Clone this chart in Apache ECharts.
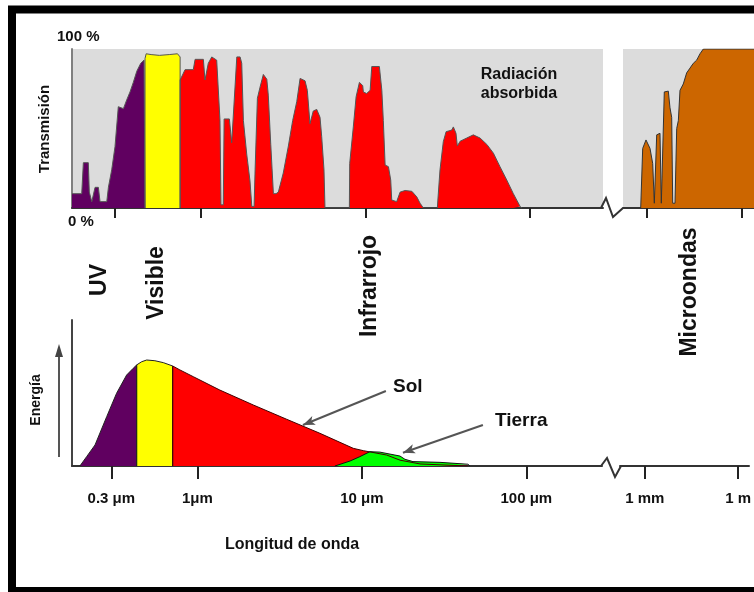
<!DOCTYPE html>
<html><head><meta charset="utf-8">
<script src="https://cdn.jsdelivr.net/npm/echarts@6/dist/echarts.min.js"></script>
<style>html,body{margin:0;padding:0;background:#fff;}#c{width:754px;height:592px;}</style>
</head><body><div id="c"></div>
<script>
// x values are log10(wavelength / µm)
const tickNear = [Math.log10(0.3), 0, 1, 2];
const tickNearText = ['0.3 μm', '1μm', '10 μm', '100 μm'];
const tickFar = [3, 6];
const tickFarText = ['1 mm', '1 m'];

// Atmospheric transmission (%)
const transUV = [[-0.78,9],[-0.721,9],[-0.711,28.5],[-0.681,28.5],[-0.675,10],[-0.66,4],[-0.65,4],[-0.64,13],[-0.62,13],[-0.61,4],[-0.569,4],[-0.559,13],[-0.539,24],[-0.519,38.6],[-0.499,63.7],[-0.468,62.5],[-0.448,68],[-0.428,73],[-0.408,79],[-0.387,86],[-0.363,91],[-0.343,93],[-0.337,94],[-0.337,0]];
const transVis = [[-0.337,0],[-0.337,94],[-0.33,97],[-0.30,96.5],[-0.25,96],[-0.19,96.5],[-0.14,97],[-0.124,95],[-0.124,0]];
const transIR = [[-0.124,0],[-0.124,80.5],[-0.094,87],[-0.044,87],[-0.033,93.5],[0.017,93.5],[0.027,80.5],[0.047,91],[0.068,95],[0.098,93],[0.118,55],[0.124,2],[0.138,2],[0.143,56],[0.175,56],[0.189,41],[0.22,95],[0.24,95],[0.25,91],[0.26,55],[0.28,34],[0.30,17],[0.311,1],[0.325,1],[0.331,24],[0.345,69],[0.361,76],[0.381,84],[0.402,81],[0.411,71],[0.426,40],[0.442,9],[0.458,9],[0.472,10],[0.502,22],[0.533,39],[0.559,55],[0.584,67],[0.604,81.5],[0.634,80],[0.648,74],[0.664,53],[0.684,61],[0.705,62],[0.725,57],[0.735,45],[0.749,24],[0.755,0],[0.903,0],[0.905,28],[0.927,51],[0.944,70],[0.964,79],[0.984,77],[0.988,73],[1.008,72],[1.029,74],[1.039,89],[1.085,89],[1.1,74],[1.109,55],[1.12,27],[1.14,26],[1.154,17.6],[1.16,5],[1.19,4],[1.211,10],[1.241,11],[1.282,10.5],[1.312,7],[1.332,3],[1.352,0],[1.437,0],[1.44,5],[1.453,24],[1.473,41.7],[1.49,48],[1.524,49],[1.534,51],[1.55,47],[1.558,39],[1.575,42],[1.615,44],[1.655,46],[1.696,44],[1.737,40],[1.777,34.5],[1.817,26],[1.858,17.6],[1.898,9],[1.939,1],[1.949,0]];
const transMW = [[2.801,0],[2.864,37.5],[2.968,42.8],[3.095,37.5],[3.18,28],[3.231,3],[3.284,3],[3.306,46],[3.41,47],[3.452,3],[3.515,3],[3.546,73],[3.673,73.5],[3.726,63],[3.78,57],[3.812,3],[3.884,3],[3.938,50],[3.99,55],[4.042,74],[4.146,78],[4.253,85],[4.358,88],[4.462,91],[4.569,93],[4.674,97],[4.778,100],[6.379,100]];

// Emitted energy (arbitrary units)
const solUV = [[-0.714,0],[-0.673,6.4],[-0.622,14.4],[-0.551,33.8],[-0.491,49.8],[-0.43,62.3],[-0.39,66.9],[-0.369,69.2],[-0.369,0]];
const solVis = [[-0.369,0],[-0.369,69.2],[-0.339,71.4],[-0.308,72.6],[-0.258,72.1],[-0.207,70.8],[-0.15,68.5],[-0.15,0]];
const solIR = [[-0.15,0],[-0.15,68.5],[-0.106,65.8],[-0.025,61.2],[0.137,52],[0.34,41.8],[0.543,32],[0.745,22.4],[0.948,12.1],[1.009,10.5],[1.151,7.5],[1.232,4],[1.354,1.4],[1.645,0]];
const tierra = [[0.836,0],[0.928,3.4],[0.988,6.4],[1.049,9.8],[1.11,9.5],[1.201,7.5],[1.232,6.8],[1.262,4.6],[1.311,3],[1.475,2.5],[1.481,1.4],[1.645,1.2],[1.657,0]];

const solArrow = [[1.146,51.4],[0.642,28.1]];
const tierraArrow = [[1.736,28.1],[1.25,9.1]];

const FONT = '"Liberation Sans", Arial, sans-serif';
const chart = echarts.init(document.getElementById('c'), null, {renderer:'canvas'});

function xAx(gi, min, max, ticks, texts, showLabels, tickLen){
  return {type:'value', gridIndex:gi, min:min, max:max,
    axisLine:{show:true, onZero:false, lineStyle:{color:'#333', width:2}},
    axisTick:{show:true, customValues:ticks, length:tickLen, lineStyle:{color:'#222', width:2}},
    axisLabel:{show:showLabels, customValues:ticks, margin:25, fontFamily:FONT, fontWeight:'bold', fontSize:15, color:'#111',
      formatter:function(v){ const i = ticks.findIndex(t => Math.abs(t - v) < 1e-6); return i >= 0 ? texts[i] : ''; }},
    splitLine:{show:false}};
}
function yAx(gi, showLine, color){
  return {type:'value', gridIndex:gi, min:0, max:100,
    axisLine:{show:showLine, onZero:false, lineStyle:{color:color, width:2}},
    axisTick:{show:false}, axisLabel:{show:false}, splitLine:{show:false}};
}
function band(xi, data, fill, stroke, extra){
  return Object.assign({type:'line', xAxisIndex:xi, yAxisIndex:xi, data:data, symbol:'none', showSymbol:false,
    lineStyle:{color:stroke, width:1}, areaStyle:{color:fill, opacity:1}, animation:false}, extra || {});
}
function arrow(pts){
  return {silent:true, symbol:['none','arrow'], symbolSize:[7,12], lineStyle:{color:'#555', width:2, type:'solid'}, label:{show:false},
    data:[[{coord:pts[0]},{coord:pts[1]}]]};
}
function txt(text, x, y, size, opts){
  opts = opts || {};
  return {type:'text', x:x, y:y, rotation:opts.rot || 0, z:10,
    style:{text:text, fill:'#111', font:'bold ' + size + 'px ' + FONT, textAlign:opts.align || 'center', textVerticalAlign:'middle'}};
}

chart.setOption({
  animation:false,
  backgroundColor:'#ffffff',
  grid:[
    {left:72, top:49, width:531, height:159, show:true, backgroundColor:'#dcdcdc', borderWidth:0},
    {left:623, top:49, width:131, height:159, show:true, backgroundColor:'#dcdcdc', borderWidth:0},
    {left:72, top:320, width:530, height:146},
    {left:620, top:320, width:130, height:146}
  ],
  xAxis:[
    xAx(0, -0.78, 2.442, tickNear, tickNearText, false, 10),
    xAx(1, 2.242, 6.379, tickFar, tickFarText, false, 10),
    xAx(2, -0.762, 2.46, tickNear, tickNearText, true, 13),
    xAx(3, 2.202, 6.351, tickFar, tickFarText, true, 13)
  ],
  yAxis:[yAx(0, true, '#808080'), yAx(1, false, '#808080'), yAx(2, true, '#444'), yAx(3, false, '#444')],
  series:[
    band(0, transUV, '#600060', '#555'),
    band(0, transVis, '#ffff00', '#555'),
    band(0, transIR, '#ff0000', '#555'),
    band(1, transMW, '#cc6600', '#333'),
    band(2, solUV, '#600060', '#222'),
    band(2, solVis, '#ffff00', '#222'),
    band(2, solIR, '#ff0000', '#400', {markLine:arrow(solArrow)}),
    band(2, tierra, '#00ff00', '#111', {markLine:arrow(tierraArrow)})
  ],
  graphic:[
    {type:'rect', shape:{x:12, y:9.5, width:800, height:581.5}, style:{fill:null, stroke:'#000', lineWidth:8}, z:20},
    txt('100 %', 57, 37, 15, {align:'left'}),
    txt('0 %', 68, 222, 15, {align:'left'}),
    txt('Transmisión', 45, 129, 15, {rot:Math.PI/2}),
    txt('Radiación', 519, 75, 16),
    txt('absorbida', 519, 94, 16),
    txt('UV', 100, 280, 23, {rot:Math.PI/2}),
    txt('Visible', 157, 283, 23, {rot:Math.PI/2}),
    txt('Infrarrojo', 370, 286, 23, {rot:Math.PI/2}),
    txt('Microondas', 690, 292, 23, {rot:Math.PI/2}),
    txt('Energía', 36, 400, 14, {rot:Math.PI/2}),
    txt('Sol', 393, 387, 19, {align:'left'}),
    txt('Tierra', 495, 421, 19, {align:'left'}),
    txt('Longitud de onda', 292, 545, 16),
    {type:'polyline', shape:{points:[[601,208],[606,198],[613,217],[623,208]]}, style:{fill:null, stroke:'#333', lineWidth:2}},
    {type:'polyline', shape:{points:[[601,466],[607,458],[615,477],[621,466]]}, style:{fill:null, stroke:'#333', lineWidth:2}},
    {type:'line', shape:{x1:59, y1:457, x2:59, y2:354}, style:{stroke:'#555', lineWidth:2}},
    {type:'polygon', shape:{points:[[59,344],[55,357],[63,357]]}, style:{fill:'#444'}}
  ]
});
</script>
</body></html>
